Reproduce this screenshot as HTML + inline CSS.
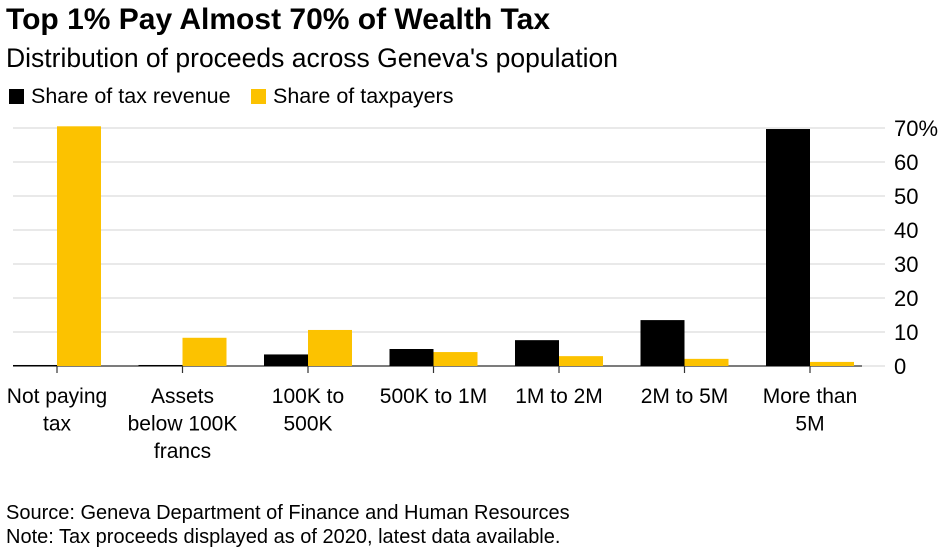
<!DOCTYPE html>
<html><head><meta charset="utf-8"><style>
body{margin:0;background:#fff;font-family:"Liberation Sans",Arial,sans-serif;color:#000}
#wrap{position:relative;width:948px;height:558px;overflow:hidden}
.t{position:absolute;white-space:nowrap}
</style></head><body>
<div id="wrap">
<div class="t" style="left:6px;top:3px;font-size:30px;font-weight:bold">Top 1% Pay Almost 70% of Wealth Tax</div>
<div class="t" style="left:6px;top:43px;font-size:26.5px">Distribution of proceeds across Geneva's population</div>
<div class="t" style="left:9px;top:84px;font-size:21.5px"><span style="display:inline-block;width:15px;height:15px;background:#000;vertical-align:-1px;margin-right:7px"></span>Share of tax revenue</div>
<div class="t" style="left:251px;top:84px;font-size:21.5px"><span style="display:inline-block;width:15px;height:15px;background:#fcc200;vertical-align:-1px;margin-right:7px"></span>Share of taxpayers</div>
<svg id="svg" width="948" height="558" style="position:absolute;left:0;top:0"></svg>
<div class="t" style="left:6px;top:502px;font-size:20px">Source: Geneva Department of Finance and Human Resources</div>
<div class="t" style="left:6px;top:526px;font-size:20px">Note: Tax proceeds displayed as of 2020, latest data available.</div>
</div>
<script>
const categories=[["Not paying","tax"],["Assets","below 100K","francs"],["100K to","500K"],["500K to 1M"],["1M to 2M"],["2M to 5M"],["More than","5M"]];
const revenue=[0.3,0.3,3.4,5.0,7.6,13.5,69.7];
const taxpayers=[70.5,8.3,10.6,4.1,2.9,2.1,1.2];
const ticks=[0,10,20,30,40,50,60,70];
const tickLabels=["0","10","20","30","40","50","60","70%"];
const NS="http://www.w3.org/2000/svg",svg=document.getElementById('svg');
const y=v=>366-v*3.4, xc=i=>57+i*125.5, bw=44;
function mk(t,a){const e=document.createElementNS(NS,t);for(const k in a)e.setAttribute(k,a[k]);svg.appendChild(e);return e;}
ticks.forEach((t,i)=>{
 const l=mk('line',{x1:13,x2:885,y1:y(t),y2:y(t),stroke:'#dcdcdc','stroke-width':1.3});
 
 
 const tx=mk('text',{x:894,y:y(t)+8,'font-size':22,'font-family':'Liberation Sans, Arial, sans-serif'});
 tx.textContent=tickLabels[i];
 
 
});
const base=mk('line',{x1:13,x2:862,y1:366,y2:366,stroke:'#333','stroke-width':1.2});


categories.forEach((c,i)=>{
 const cx=xc(i);
 const b=mk('rect',{x:cx-bw,y:y(revenue[i]),width:bw,height:366-y(revenue[i]),fill:'#000'});
 
 
 const b2=mk('rect',{x:cx,y:y(taxpayers[i]),width:bw,height:366-y(taxpayers[i]),fill:'#fcc200'});
 
 
 const tk=mk('line',{x1:cx,x2:cx,y1:366,y2:373,stroke:'#333','stroke-width':1.2});
 
 
 c.forEach((ln,j)=>{
  const t=mk('text',{x:cx,y:403+j*27.5,'font-size':21,'text-anchor':'middle','font-family':'Liberation Sans, Arial, sans-serif'});
  t.textContent=ln;
  
  
 });
});
</script>
</body></html>
